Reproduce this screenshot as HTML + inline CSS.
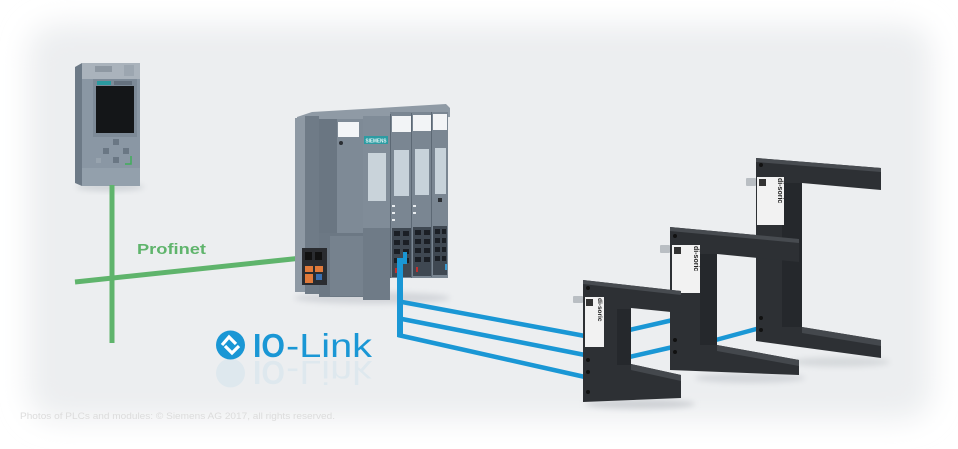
<!DOCTYPE html>
<html><head><meta charset="utf-8"><style>
html,body{margin:0;padding:0;background:#fff;width:958px;height:449px;overflow:hidden}
svg{display:block}
</style></head><body>
<svg width="958" height="449" viewBox="0 0 958 449" xmlns="http://www.w3.org/2000/svg" font-family="Liberation Sans, Arial, sans-serif">
<defs>
<filter id="bl" x="-10%" y="-10%" width="120%" height="120%"><feGaussianBlur stdDeviation="14"/></filter>
<filter id="sb" x="-20%" y="-50%" width="140%" height="200%"><feGaussianBlur stdDeviation="3"/></filter>
</defs>
<rect width="958" height="449" fill="#fff"/>
<rect x="28" y="24" width="904" height="396" rx="30" fill="#eceef0" filter="url(#bl)"/>

<!-- CPU -->
<ellipse cx="110" cy="187" rx="34" ry="4" fill="#cfd3d7" filter="url(#sb)"/>
<polygon points="75,67 82,63 82,186 75,183" fill="#6d7a87"/>
<rect x="82" y="63" width="58" height="123" fill="#8a97a4"/>
<rect x="82" y="63" width="58" height="16" fill="#aab3bc"/>
<rect x="95" y="66" width="17" height="6" fill="#8e98a2"/>
<rect x="124" y="65" width="10" height="11" fill="#9ca6b0"/>
<rect x="93" y="79" width="44" height="58" fill="#7d8a97"/>
<rect x="97" y="81" width="14" height="4" fill="#2b9aa0"/>
<rect x="114" y="81" width="18" height="4" fill="#65717e"/>
<rect x="96" y="86" width="38" height="47" fill="#141618"/>
<rect x="113" y="139" width="6" height="6" fill="#6a7784"/>
<rect x="113" y="157" width="6" height="6" fill="#6a7784"/>
<rect x="103" y="148" width="6" height="6" fill="#6a7784"/>
<rect x="123" y="148" width="6" height="6" fill="#6a7784"/>
<rect x="96" y="158" width="5" height="5" fill="#97a3ae"/>
<path d="M131,156 L131,164 L125,164" stroke="#3fae5a" stroke-width="1.5" fill="none"/>
<rect x="82" y="168" width="58" height="18" fill="#93a0ac"/>

<!-- Profinet -->
<line x1="112" y1="185" x2="112" y2="343" stroke="#5fb46c" stroke-width="5"/>
<line x1="75" y1="282" x2="302" y2="258" stroke="#5fb46c" stroke-width="5"/>
<text x="137" y="254" font-size="15" font-weight="bold" fill="#5fb46c" textLength="69" lengthAdjust="spacingAndGlyphs">Profinet</text>

<!-- ET200SP -->
<ellipse cx="372" cy="298" rx="78" ry="6" fill="#d3d6da" filter="url(#sb)"/>
<polygon points="297,117 312,112 446,104 450,108 450,117 297,123" fill="#8f9aa5"/>
<rect x="295" y="118" width="10" height="174" fill="#8e99a4"/>
<rect x="305" y="116" width="14" height="178" fill="#6f7b87"/>
<rect x="319" y="119" width="44" height="114" fill="#7e8a96"/>
<rect x="319" y="119" width="18" height="114" fill="#6a7682"/>
<rect x="338" y="122" width="21" height="15" fill="#f3f5f7"/>
<circle cx="341" cy="143" r="2" fill="#2a2e33"/>
<rect x="319" y="233" width="45" height="64" fill="#6c7884"/>
<rect x="330" y="236" width="33" height="60" fill="#76828e"/>
<rect x="302" y="248" width="25" height="37" fill="#2a2c30"/>
<rect x="305" y="252" width="7" height="8" fill="#111"/>
<rect x="315" y="252" width="7" height="8" fill="#111"/>
<rect x="305" y="266" width="8" height="6" fill="#e07a3a"/>
<rect x="315" y="266" width="8" height="6" fill="#e07a3a"/>
<rect x="305" y="274" width="8" height="9" fill="#e07a3a"/>
<rect x="316" y="274" width="6" height="6" fill="#3a6fb0"/>
<rect x="363" y="116" width="27" height="184" fill="#808c98"/>
<rect x="364" y="136" width="24" height="8" fill="#2c9ca3"/>
<text x="365.5" y="142.5" font-size="5" fill="#e8f6f6" font-weight="bold" textLength="21" lengthAdjust="spacingAndGlyphs">SIEMENS</text>
<rect x="368" y="153" width="18" height="48" fill="#c9d3da"/>
<rect x="363" y="228" width="27" height="72" fill="#6f7b87"/>
<rect x="390" y="112" width="58" height="166" fill="#7a8692"/>
<rect x="390" y="114" width="1" height="164" fill="#5c6874"/>
<rect x="392" y="116" width="19" height="16" fill="#f2f4f6"/>
<rect x="394" y="150" width="15" height="46" fill="#c7d2da"/>
<rect x="392" y="205" width="3" height="2" fill="#e8ecef"/><rect x="392" y="212" width="3" height="2" fill="#e8ecef"/><rect x="392" y="219" width="3" height="2" fill="#e8ecef"/>
<rect x="392" y="228" width="19" height="49" fill="#3f4852"/>
<rect x="411" y="113" width="1" height="165" fill="#5c6874"/>
<rect x="413" y="115" width="18" height="16" fill="#f2f4f6"/>
<rect x="415" y="149" width="14" height="46" fill="#c7d2da"/>
<rect x="413" y="205" width="3" height="2" fill="#e8ecef"/><rect x="413" y="212" width="3" height="2" fill="#e8ecef"/>
<rect x="413" y="227" width="18" height="49" fill="#3f4852"/>
<rect x="431" y="112" width="1" height="165" fill="#5c6874"/>
<rect x="433" y="114" width="14" height="16" fill="#f2f4f6"/>
<rect x="435" y="148" width="11" height="46" fill="#c7d2da"/>
<rect x="438" y="198" width="4" height="4" fill="#2a2e33"/>
<rect x="433" y="226" width="14" height="49" fill="#3f4852"/>
<g fill="#1b1f25">
<rect x="394" y="231" width="6" height="5"/><rect x="403" y="231" width="6" height="5"/>
<rect x="394" y="240" width="6" height="5"/><rect x="403" y="240" width="6" height="5"/>
<rect x="394" y="249" width="6" height="5"/><rect x="403" y="249" width="6" height="5"/>
<rect x="394" y="258" width="6" height="5"/><rect x="403" y="258" width="6" height="5"/>
<rect x="415" y="230" width="6" height="5"/><rect x="424" y="230" width="6" height="5"/>
<rect x="415" y="239" width="6" height="5"/><rect x="424" y="239" width="6" height="5"/>
<rect x="415" y="248" width="6" height="5"/><rect x="424" y="248" width="6" height="5"/>
<rect x="415" y="257" width="6" height="5"/><rect x="424" y="257" width="6" height="5"/>
<rect x="435" y="229" width="5" height="5"/><rect x="442" y="229" width="4" height="5"/>
<rect x="435" y="238" width="5" height="5"/><rect x="442" y="238" width="4" height="5"/>
<rect x="435" y="247" width="5" height="5"/><rect x="442" y="247" width="4" height="5"/>
<rect x="435" y="256" width="5" height="5"/><rect x="442" y="256" width="4" height="5"/>
</g>
<rect x="395" y="268" width="2" height="5" fill="#c0302e"/>
<rect x="416" y="267" width="2" height="5" fill="#c0302e"/>
<rect x="445" y="264" width="2" height="6" fill="#3a9ad0"/>

<!-- blue IO-Link lines -->
<g stroke="#1a97d5" stroke-width="4.5" fill="none" stroke-linecap="butt">
<line x1="402" y1="302" x2="585" y2="336"/>
<line x1="402" y1="319" x2="585" y2="355"/>
<line x1="398" y1="335" x2="585" y2="377"/>
<line x1="625" y1="331" x2="673" y2="320"/>
<line x1="625" y1="358" x2="673" y2="347"/>
<line x1="712" y1="341" x2="760" y2="328"/>
</g>
<rect x="397" y="258" width="6" height="79" fill="#1a97d5"/>
<rect x="403" y="252" width="4" height="12" fill="#1a97d5"/>

<!-- IO-Link logo -->
<g transform="translate(0,718) scale(1,-1)" opacity="0.06">
<circle cx="230.5" cy="345" r="14.5" fill="#1a97d5"/>
<text x="253" y="357" font-size="33" font-weight="bold" fill="#1a97d5" textLength="32" lengthAdjust="spacingAndGlyphs">IO</text>
<text x="286" y="357" font-size="33" fill="#1a97d5" textLength="86" lengthAdjust="spacingAndGlyphs">-Link</text>
</g>
<circle cx="230.5" cy="345" r="14.5" fill="#1a97d5"/>
<polyline points="222,345 229,337 236,344" stroke="#fff" stroke-width="3.2" fill="none"/>
<polyline points="225,346 232,353 239,346" stroke="#fff" stroke-width="3.2" fill="none"/>
<text x="253" y="357" font-size="33" font-weight="bold" fill="#1a97d5" textLength="32" lengthAdjust="spacingAndGlyphs">IO</text>
<text x="286" y="357" font-size="33" fill="#1a97d5" textLength="86" lengthAdjust="spacingAndGlyphs">-Link</text>

<!-- sensor shadows -->
<ellipse cx="640" cy="404" rx="55" ry="5" fill="#cfd2d6" filter="url(#sb)"/>
<ellipse cx="750" cy="378" rx="55" ry="5" fill="#d3d6da" filter="url(#sb)"/>
<ellipse cx="840" cy="362" rx="50" ry="5" fill="#d6d9dc" filter="url(#sb)"/>

<!-- sensor 3 (back) -->
<polygon points="756,158 881,168 881,190 802,183 802,327 881,340 881,358 756,341" fill="#2d3034"/>
<polygon points="756,158 881,168 881,172 756,162" fill="#474b50"/>
<polygon points="802,327 881,340 881,346 802,333" fill="#44484d"/>
<rect x="782" y="183" width="20" height="144" fill="#25282c"/>
<rect x="746" y="178" width="10" height="8" rx="1" fill="#b9bec3"/>
<rect x="757" y="177" width="27" height="48" fill="#f2f2f2"/>
<rect x="759" y="179" width="7" height="7" fill="#333"/>
<text transform="translate(778,178) rotate(90)" font-size="7" font-weight="bold" fill="#222">di-soric</text>
<circle cx="761" cy="165" r="2" fill="#111"/>
<circle cx="761" cy="318" r="2" fill="#111"/>
<circle cx="761" cy="330" r="2" fill="#111"/>

<!-- sensor 2 -->
<polygon points="670,227 799,239 799,262 717,254 717,345 799,360 799,375 670,370" fill="#2d3034"/>
<polygon points="670,227 799,239 799,243 670,231" fill="#474b50"/>
<polygon points="717,345 799,360 799,366 717,351" fill="#44484d"/>
<rect x="700" y="254" width="17" height="91" fill="#25282c"/>
<rect x="660" y="245" width="10" height="8" rx="1" fill="#b9bec3"/>
<rect x="672" y="245" width="28" height="48" fill="#f2f2f2"/>
<rect x="674" y="247" width="7" height="7" fill="#333"/>
<text transform="translate(694,246) rotate(90)" font-size="7" font-weight="bold" fill="#222">di-soric</text>
<circle cx="675" cy="236" r="2" fill="#111"/>
<circle cx="675" cy="340" r="2" fill="#111"/>
<circle cx="675" cy="352" r="2" fill="#111"/>

<!-- sensor 1 (front) -->
<polygon points="583,280 681,291 681,313 631,308 631,364 681,375 681,398 583,402" fill="#2d3034"/>
<polygon points="583,280 681,291 681,295 583,284" fill="#474b50"/>
<polygon points="631,364 681,375 681,381 631,370" fill="#44484d"/>
<rect x="617" y="309" width="14" height="56" fill="#25282c"/>
<rect x="573" y="296" width="10" height="7" rx="1" fill="#b9bec3"/>
<rect x="585" y="297" width="19" height="50" fill="#f2f2f2"/>
<rect x="586" y="299" width="7" height="7" fill="#333"/>
<text transform="translate(598,298) rotate(90)" font-size="6.5" font-weight="bold" fill="#222">di-soric</text>
<circle cx="588" cy="288" r="2" fill="#111"/>
<circle cx="588" cy="360" r="2" fill="#111"/>
<circle cx="588" cy="372" r="2" fill="#111"/>
<circle cx="588" cy="392" r="2" fill="#111"/>

<!-- copyright -->
<text x="20" y="419" font-size="9.5" fill="#dcdcdc" textLength="315" lengthAdjust="spacingAndGlyphs">Photos of PLCs and modules: © Siemens AG 2017, all rights reserved.</text>
</svg>
</body></html>
